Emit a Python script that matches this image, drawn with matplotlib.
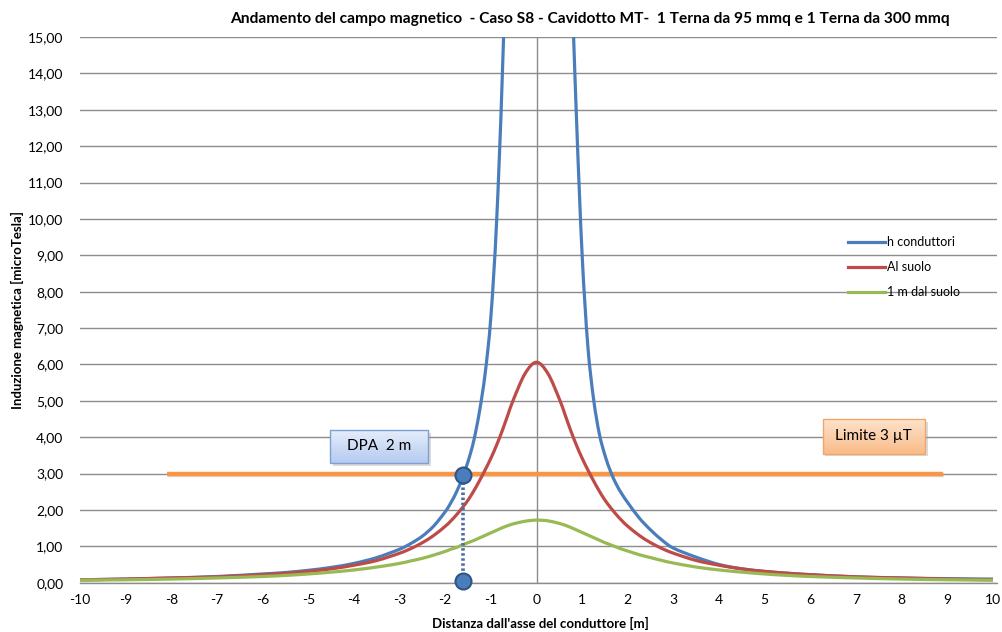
import numpy as np
import matplotlib
matplotlib.use("Agg")
import matplotlib.pyplot as plt
from matplotlib.patches import Rectangle, PathPatch
from matplotlib.path import Path
from matplotlib.lines import Line2D
import matplotlib.patheffects as pe
from matplotlib.ticker import FuncFormatter

plt.rcParams['font.family'] = ['Lato', 'DejaVu Sans']

# ---------------- data ----------------
x = [-10, -9, -8, -7, -6, -5.5, -5, -4.5, -4, -3.5, -3, -2.75, -2.5, -2.25, -2,
     -1.875, -1.75, -1.625, -1.5, -1.375, -1.25, -1.125, -1, -0.875, -0.75, -0.625, -0.5, -0.25,
     0,
     0.25, 0.5, 0.625, 0.75, 0.875, 1, 1.125, 1.25, 1.375, 1.5, 1.625, 1.75, 1.875, 2, 2.25,
     2.5, 2.75, 3, 3.5, 4, 4.5, 5, 5.5, 6, 7, 8, 9, 10]

h_conduttori = [0.08, 0.10, 0.13, 0.17, 0.24, 0.28, 0.34, 0.42, 0.53, 0.69, 0.92, 1.08, 1.28, 1.56, 1.95,
                2.20, 2.50, 2.88, 3.33, 3.90, 4.70, 5.75, 7.30, 9.9, 13.9, 19.5, 29.0, 60.0,
                90.0,
                60.0, 30.0, 24.0, 17.5, 12.8, 9.0, 6.5, 5.05, 4.1, 3.5, 3.05, 2.70, 2.43, 2.2, 1.78,
                1.45, 1.17, 0.95, 0.70, 0.50, 0.38, 0.31, 0.26, 0.22, 0.16, 0.13, 0.11, 0.10]

al_suolo = [0.08, 0.10, 0.13, 0.16, 0.22, 0.26, 0.31, 0.38, 0.48, 0.61, 0.81, 0.94, 1.10, 1.30, 1.55,
            1.70, 1.87, 2.06, 2.27, 2.52, 2.80, 3.10, 3.42, 3.78, 4.18, 4.62, 5.05, 5.75,
            6.06,
            5.75, 5.05, 4.62, 4.18, 3.78, 3.42, 3.10, 2.80, 2.52, 2.27, 2.06, 1.87, 1.70, 1.55, 1.30,
            1.10, 0.94, 0.81, 0.61, 0.48, 0.38, 0.31, 0.26, 0.22, 0.16, 0.13, 0.10, 0.08]

un_m_dal_suolo = [0.07, 0.08, 0.10, 0.13, 0.17, 0.20, 0.24, 0.29, 0.35, 0.43, 0.53, 0.60, 0.67, 0.76, 0.86,
                  0.92, 0.97, 1.04, 1.10, 1.16, 1.23, 1.30, 1.37, 1.44, 1.51, 1.57, 1.62, 1.69,
                  1.72,
                  1.70, 1.63, 1.58, 1.52, 1.45, 1.38, 1.31, 1.24, 1.17, 1.10, 1.04, 0.98, 0.92, 0.87, 0.77,
                  0.69, 0.61, 0.54, 0.43, 0.35, 0.29, 0.24, 0.20, 0.17, 0.13, 0.10, 0.08, 0.07]

limite_x = [-8.1, 8.9]
limite_y = [3.0, 3.0]

dpa_x = [-1.62, -1.62]
dpa_y = [0.05, 2.95]

series_labels = ["h conduttori", "Al suolo", "1 m dal suolo"]
x_ticks = list(range(-10, 11))
y_ticks = [i * 1.0 for i in range(0, 16)]

title = "Andamento del campo magnetico  - Caso S8 - Cavidotto MT-  1 Terna da 95 mmq e 1 Terna da 300 mmq"
xlabel = "Distanza dall'asse del conduttore [m]"
ylabel = "Induzione magnetica [microTesla]"
dpa_text = "DPA  2 m"
limite_text = "Limite 3 \u00b5T"

# ---------------- figure ----------------
W, H = 1003, 632
fig = plt.figure(figsize=(W / 100, H / 100), dpi=100)
fig.patch.set_facecolor("white")
ax = fig.add_axes([80 / W, (H - 582.7) / H, 917 / W, (582.7 - 37) / H])

grid_c = "#8c8c8c"
XLIM = (-10, 10 + 4 / 45.67)
ax.set_xlim(*XLIM)
ax.set_ylim(0, 15)
ax.set_yticks(y_ticks)
ax.set_xticks(x_ticks)
ax.yaxis.set_major_formatter(FuncFormatter(lambda v, p: f"{v:.2f}".replace(".", ",")))
ax.xaxis.set_major_formatter(FuncFormatter(lambda v, p: f"{int(round(v))}"))
ax.grid(axis="y", color=grid_c, linewidth=1.0)
ax.set_axisbelow(True)
for s in ["top", "right", "left"]:
    ax.spines[s].set_visible(False)
ax.spines["bottom"].set_color(grid_c)
ax.spines["bottom"].set_linewidth(1.0)
ax.tick_params(axis="both", length=0, labelsize=10, colors="black")
ax.tick_params(axis="y", pad=12)
ax.tick_params(axis="x", pad=8)
ax.axvline(0, color=grid_c, linewidth=1.0, zorder=1)

# limit line
ax.plot(limite_x, limite_y, color="#f79646", linewidth=3.2, solid_capstyle="butt", zorder=2,
        path_effects=[pe.SimpleLineShadow(offset=(0.6, -1.0), shadow_color="#c0a080", alpha=0.4), pe.Normal()])


def smooth_path(xs, ys):
    """Excel-like smoothed line: cubic Bezier segments through the data points."""
    P = np.column_stack([xs, ys]).astype(float)
    n = len(P)
    verts = [P[0]]
    codes = [Path.MOVETO]
    for i in range(n - 1):
        p0 = P[i - 1] if i > 0 else P[i]
        p1 = P[i]
        p2 = P[i + 1]
        p3 = P[i + 2] if i + 2 < n else P[i + 1]
        c1 = p1 + (p2 - p0) / 6.0
        c2 = p2 - (p3 - p1) / 6.0
        verts += [c1, c2, p2]
        codes += [Path.CURVE4] * 3
    return Path(verts, codes)


colors = ["#4a7ebb", "#be4b48", "#98b954"]
handles = []
for ys, c, lab in zip([h_conduttori, al_suolo, un_m_dal_suolo], colors, series_labels):
    patch = PathPatch(smooth_path(x, ys), facecolor="none", edgecolor=c, linewidth=2.3, zorder=3,
                      joinstyle="round", capstyle="butt")
    ax.add_patch(patch)
    handles.append(Line2D([], [], color=c, linewidth=2.3, label=lab))

# DPA marker
ax.plot(dpa_x, dpa_y, color="#4f6fa0", linewidth=2.6, linestyle=(0, (0.7, 0.7)), zorder=4)
ax.plot(dpa_x, dpa_y, linestyle="none", marker="o", markersize=11.5, markerfacecolor="#4a7ebb",
        markeredgecolor="#2f5587", markeredgewidth=1.5, zorder=5, clip_on=False)


def grad_box(x0, x1, y0, y1, ctop, cbot, edge, text):
    sh = Rectangle((x0 + 0.06, y0 - 0.08), x1 - x0, y1 - y0, facecolor="#999999", alpha=0.35,
                   edgecolor="none", zorder=5)
    ax.add_patch(sh)
    ct = np.array(matplotlib.colors.to_rgb(ctop))
    cb = np.array(matplotlib.colors.to_rgb(cbot))
    t = np.linspace(0, 1, 64)[:, None]
    img = (ct[None, :] * (1 - t) + cb[None, :] * t)[:, None, :]
    im = ax.imshow(img, extent=(x0, x1, y0, y1), origin="upper", aspect="auto", zorder=6,
                   interpolation="bilinear")
    r = Rectangle((x0, y0), x1 - x0, y1 - y0, facecolor="none", edgecolor=edge, linewidth=1.0, zorder=7)
    ax.add_patch(r)
    im.set_clip_path(r)
    ax.text((x0 + x1) / 2, (y0 + y1) / 2, text, ha="center", va="center", fontsize=11, zorder=8)


grad_box(-4.52, -2.38, 3.29, 4.20, "#e6eefb", "#b5cbf0", "#7f9fd3", dpa_text)
grad_box(6.27, 8.51, 3.55, 4.50, "#fde3cc", "#f9bb88", "#f2a46a", limite_text)
ax.set_xlim(*XLIM)
ax.set_ylim(0, 15)

leg = ax.legend(handles=handles, loc="upper left", bbox_to_anchor=(848 / W, (H - 236) / H),
                bbox_transform=fig.transFigure, frameon=False, fontsize=9, handlelength=3.0,
                handletextpad=0.1, labelspacing=1.05, borderaxespad=0, borderpad=0)

fig.text(590 / W, 1 - 19 / H, title, ha="center", va="center", fontsize=11.2, fontweight="bold")
fig.text(540 / W, 1 - 623 / H, xlabel, ha="center", va="center", fontsize=9.5, fontweight="bold")
fig.text(17 / W, 1 - 310 / H, ylabel, ha="center", va="center", rotation=90, fontsize=9.5, fontweight="bold")

fig.savefig("out.png", dpi=100, facecolor="white")
